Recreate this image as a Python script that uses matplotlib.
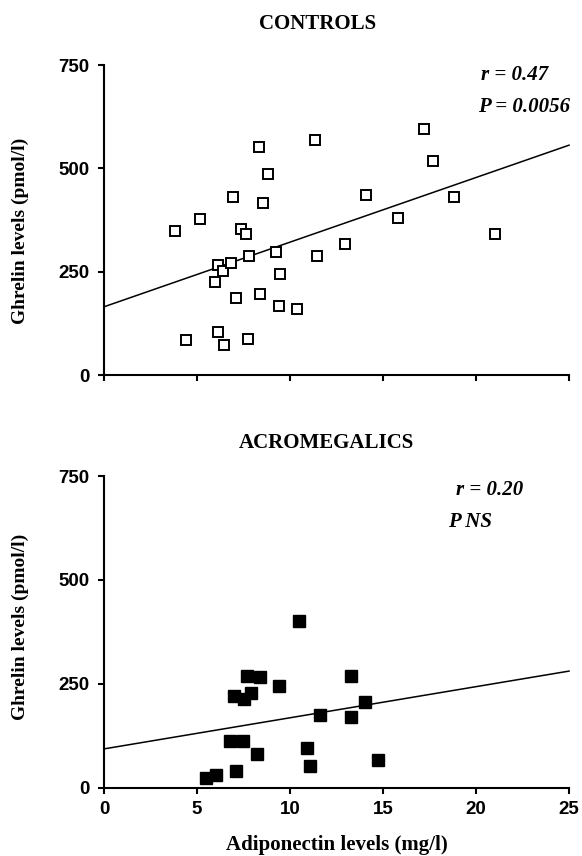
import matplotlib.pyplot as plt
import numpy as np

# Controls: adiponectin (mg/l) vs ghrelin (pmol/l)
ctrl_adipo = [3.8, 5.15, 4.4, 6.15, 5.95, 6.4, 6.85, 6.15, 6.45, 6.95, 7.1, 7.35, 7.65,
              7.8, 7.75, 8.35, 8.4, 8.55, 8.8, 9.25, 9.45, 9.4, 10.4, 11.35, 11.45,
              12.95, 14.1, 15.8, 17.2, 17.7, 18.8, 21.0]
ctrl_ghrelin = [349, 377, 85, 266, 226, 252, 270, 103, 73, 430, 187, 353, 342,
                288, 86, 551, 195, 417, 486, 298, 245, 167, 160, 568, 289,
                316, 435, 380, 594, 518, 430, 340]
ctrl_fit_x = [0, 25]
ctrl_fit_y = [165, 556]

# Acromegalics
acro_adipo = [5.5, 6.0, 7.1, 6.8, 7.45, 8.2, 7.0, 7.5, 7.9, 7.7, 8.4, 9.4, 10.5,
              10.9, 11.1, 11.6, 13.3, 13.3, 14.05, 14.75]
acro_ghrelin = [23, 32, 40, 113, 113, 81, 220, 215, 228, 269, 266, 244, 402,
                95, 53, 176, 269, 170, 206, 68]
acro_fit_x = [0, 25]
acro_fit_y = [94, 281]

x_ticks = [0, 5, 10, 15, 20, 25]
y_ticks = [0, 250, 500, 750]

serif = "Liberation Serif"
sans = "Liberation Sans"

W, H = 582, 856
fig = plt.figure(figsize=(W / 100, H / 100), dpi=100)


def setup_axes(ax, show_xlabels):
    ax.set_xlim(0, 25)
    ax.set_ylim(0, 750)
    ax.set_xticks(x_ticks)
    ax.set_yticks(y_ticks)
    for s in ("top", "right"):
        ax.spines[s].set_visible(False)
    for s in ("left", "bottom"):
        ax.spines[s].set_linewidth(1.5)
    ax.tick_params(direction="out", length=4.5, width=1.5, labelsize=13.5)
    ax.tick_params(axis="y", pad=6)
    ax.tick_params(axis="x", pad=5)
    for lab in ax.get_yticklabels() + ax.get_xticklabels():
        lab.set_fontfamily(sans)
        lab.set_fontweight("bold")
    if not show_xlabels:
        ax.set_xticklabels([])
    ax.patch.set_visible(False)


def ylabel(ycenter):
    fig.text(20 / W, 1 - ycenter / H, "Ghrelin levels (pmol/l)", rotation=90,
             ha="center", va="center", fontfamily=serif, fontweight="bold", fontsize=14)


def note(x, y, s, ha):
    fig.text(x / W, 1 - y / H, s, ha=ha, va="center", fontfamily=serif,
             fontweight="bold", fontstyle="italic", fontsize=15)


# top panel
ax1 = fig.add_axes([104 / W, 1 - 375 / H, 465 / W, 310 / H])
ax1.plot(ctrl_fit_x, ctrl_fit_y, color="black", lw=1.1, clip_on=False)
ax1.plot(ctrl_adipo, ctrl_ghrelin, ls="none", marker="s", ms=7.5, mfc="white",
         mec="black", mew=1.4, clip_on=False)
setup_axes(ax1, False)
ylabel(231)
fig.text(318 / W, 1 - 24 / H, "CONTROLS", ha="center", va="center",
         fontfamily=serif, fontweight="bold", fontsize=15)
note(548, 75, "r = 0.47", "right")
note(570, 107, "P = 0.0056", "right")

# bottom panel
ax2 = fig.add_axes([104 / W, 1 - 788 / H, 465 / W, 312 / H])
ax2.plot(acro_fit_x, acro_fit_y, color="black", lw=1.1, clip_on=False)
ax2.plot(acro_adipo, acro_ghrelin, ls="none", marker="s", ms=8, mfc="black",
         mec="black", clip_on=False)
setup_axes(ax2, True)
ylabel(627)
fig.text(337 / W, 1 - 845 / H, "Adiponectin levels (mg/l)", ha="center", va="center",
         fontfamily=serif, fontweight="bold", fontsize=15)
fig.text(326 / W, 1 - 443 / H, "ACROMEGALICS", ha="center", va="center",
         fontfamily=serif, fontweight="bold", fontsize=15)
note(523, 490, "r = 0.20", "right")
note(448, 522, "P NS", "left")

fig.savefig("out.png", dpi=100, facecolor="white")
